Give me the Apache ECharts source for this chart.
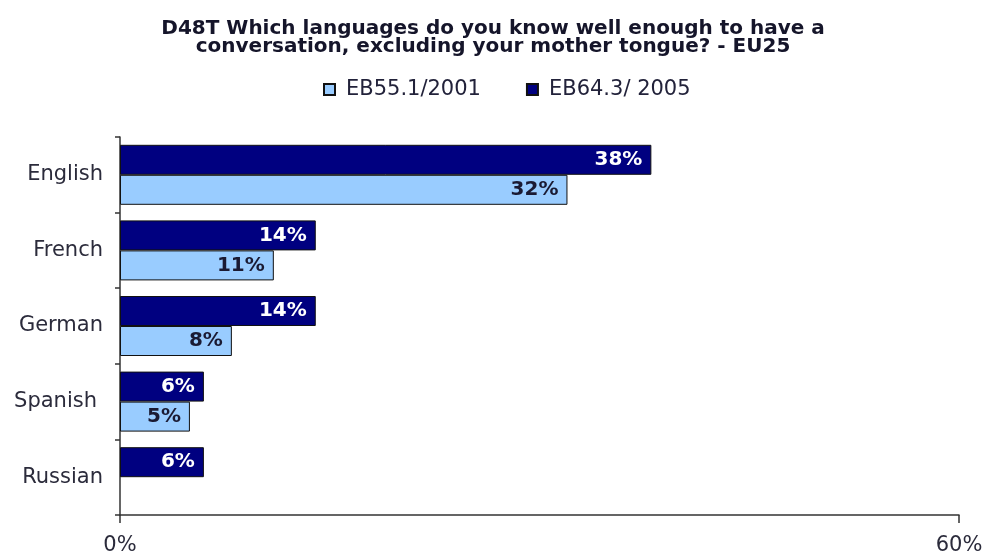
<!DOCTYPE html>
<html><head><meta charset="utf-8">
<script src="https://cdn.jsdelivr.net/npm/echarts@6/dist/echarts.min.js"></script>
<style>html,body{margin:0;padding:0;background:#fff}#c{width:986px;height:556px}</style>
</head><body><div id="c"></div>
<script>
const categories = ['English', 'French', 'German', 'Spanish', 'Russian'];
const seriesNames = ['EB55.1/2001', 'EB64.3/ 2005'];
const values2001 = [32, 11, 8, 5, null];
const values2005 = [38, 14, 14, 6, 6];
const xTicks = [0, 60];

const chart = echarts.init(document.getElementById('c'));
const FONT = 'DejaVu Sans';
chart.setOption({
  animation: false,
  title: {
    text: 'D48T Which languages do you know well enough to have a\nconversation, excluding your mother tongue? - EU25',
    left: 'center', top: 15,
    textStyle: { fontFamily: FONT, fontWeight: 'bold', fontSize: 20, color: '#15152a', lineHeight: 18 }
  },
  legend: {
    data: seriesNames, top: 74, left: 318, itemGap: 45,
    itemWidth: 11, itemHeight: 11, icon: 'rect',
    textStyle: { fontFamily: FONT, fontSize: 21, color: '#22223a', padding: [0, 0, 0, 6] }
  },
  grid: { left: 120, right: 27, top: 137, bottom: 38, containLabel: false },
  xAxis: {
    type: 'value', min: xTicks[0], max: xTicks[1], interval: xTicks[1] - xTicks[0],
    axisLine: { show: true, lineStyle: { color: '#333', width: 1.5 } },
    axisTick: { show: true, length: 8, lineStyle: { color: '#333', width: 1.5 } },
    splitLine: { show: false },
    axisLabel: { formatter: v => v + '%', margin: 20, fontFamily: FONT, fontSize: 21, color: '#2b2b3b' }
  },
  yAxis: {
    type: 'category', data: categories, inverse: true,
    axisLine: { show: true, lineStyle: { color: '#333', width: 1.5 } },
    axisTick: { show: true, length: 5, lineStyle: { color: '#333', width: 1.5 } },
    axisLabel: {
      margin: 17, fontFamily: FONT, fontSize: 21, color: '#2b2b3b',
      formatter: v => v === 'Spanish' ? '{sp|' + v + '}' : v,
      rich: { sp: { fontFamily: FONT, fontSize: 21, color: '#2b2b3b', padding: [0, 6, 0, 0] } }
    }
  },
  series: [
    {
      name: seriesNames[1], type: 'bar', data: values2005, barWidth: 30, barGap: '0%',
      itemStyle: { color: '#000080', borderColor: '#111', borderWidth: 1 },
      label: { show: true, position: 'insideRight', formatter: p => p.value + '%',
        fontFamily: FONT, fontWeight: 'bold', fontSize: 20, color: '#fff', distance: 9 }
    },
    {
      name: seriesNames[0], type: 'bar', data: values2001, barWidth: 30, barGap: '0%',
      itemStyle: { color: '#99CCFF', borderColor: '#111', borderWidth: 1 },
      label: { show: true, position: 'insideRight', formatter: p => p.value + '%',
        fontFamily: FONT, fontWeight: 'bold', fontSize: 20, color: '#1a1a33', distance: 9 }
    }
  ]
});
</script></body></html>
